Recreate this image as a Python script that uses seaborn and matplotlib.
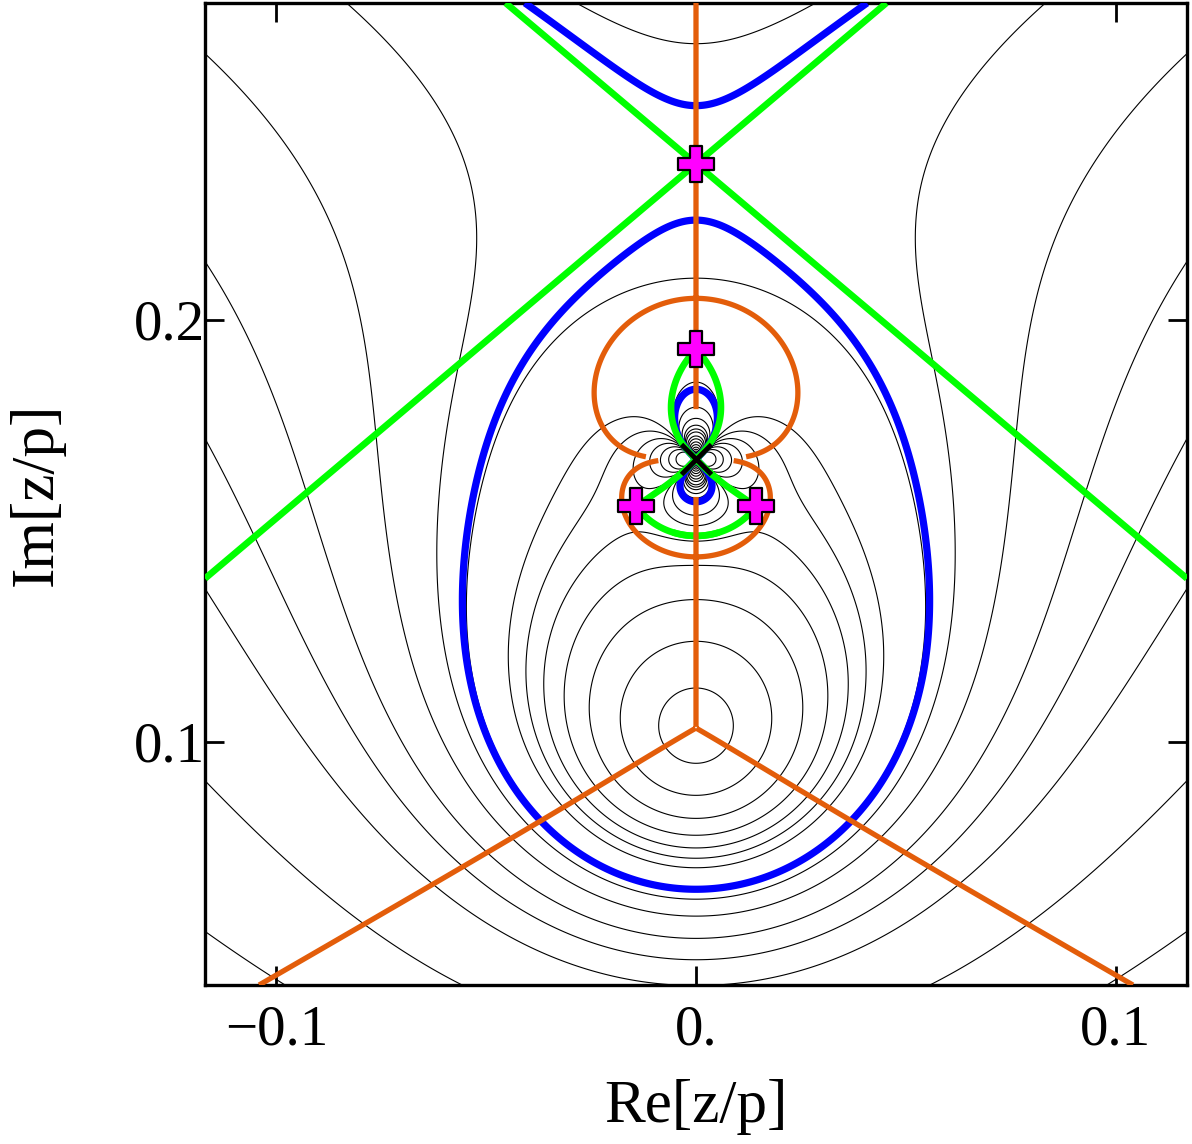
import numpy as np
import matplotlib
matplotlib.use("Agg")
import matplotlib.pyplot as plt
import seaborn as sns

# frame and ticks
X_RANGE = [-0.117, 0.117]
Y_RANGE = [0.0424, 0.2751]
X_TICKS = [-0.1, 0.0, 0.1]
X_TICK_LABELS = ["\u22120.1", "0.", "0.1"]
Y_TICKS = [0.1, 0.2]
Y_TICK_LABELS = ["0.1", "0.2"]

# model S(u) = p log(u - d) + B/u^2 + i E u,  u = z - pole
POLE_Y = 0.167                    # black cross
LOG_Y = 0.1033                    # centre of the circles, where the orange rays meet
AXIS_SADDLES_Y = [0.237, 0.193]   # magenta crosses on the axis
LOG_POWER = 3.0
GREEN_SLOPE = 0.84                # green lines through the top saddle
ORANGE_POLE_SCALE = [8.0, -4.5]   # upper / lower orange loop at the pole

BLUE_OFFSET = -0.013
BLACK_OFFSETS = [-5.2, -3.1, -2.1, -1.5, -1.1, -0.8, -0.54, -0.04,
                 0.23, 0.6, 1.05, 1.45, 1.9, 2.8, 3.8, 5.5, 8, 12, 18, 27, 40, 60]

# fit B and E so that the two axis saddles land where they are in the picture
t = np.array(AXIS_SADDLES_Y) - POLE_Y
delta = POLE_Y - LOG_Y
M = np.column_stack([2 / t**3, -np.ones_like(t)])
B, E = np.linalg.solve(M, -LOG_POWER / (t + delta))
d = 1j * (LOG_Y - POLE_Y)


def action(u):
    return LOG_POWER * np.log(u - d) + B / u**2 + 1j * E * u


roots = np.roots([1j * E, LOG_POWER - 1j * E * d, 0, -2 * B, 2 * B * d])
roots = roots[np.argsort(-roots.imag)]
s_vals = action(roots)
blue_level = s_vals[0].real + BLUE_OFFSET
black_levels = sorted(blue_level + np.array(BLACK_OFFSETS))

xx, yy = np.meshgrid(np.linspace(*X_RANGE, 1500), np.linspace(*Y_RANGE, 1500))
U = xx + 1j * (yy - POLE_Y)
with np.errstate(all="ignore"):
    S = action(U)
ReS = S.real

sns.set_theme(style="white")
plt.rcParams["font.family"] = ["Liberation Serif", "DejaVu Serif"]
plt.rcParams["contour.negative_linestyle"] = "solid"
plt.rcParams["text.color"] = "black"
plt.rcParams["axes.labelcolor"] = "black"

fig = plt.figure(figsize=(11.92, 11.44), dpi=100)
ax = fig.add_axes([205 / 1192, 1 - 985 / 1144, 982 / 1192, 982 / 1144])

ax.contour(xx, yy, ReS, levels=black_levels, colors="black", linewidths=0.8, zorder=1)
ax.contour(xx, yy, ReS, levels=[blue_level], colors="#0000ff", linewidths=5.2, zorder=3)

green = dict(colors="#00ff00", linewidths=4.8, zorder=4)
W = U - roots[0]
ax.contour(xx, yy, (GREEN_SLOPE * W.real)**2 - W.imag**2, levels=[0], **green)
for uk, sk in zip(roots[1:], s_vals[1:]):
    near = np.abs(U - uk) < 1.15 * np.abs(uk)
    if abs(uk.real) < 1e-9:
        keep = near & (yy > POLE_Y) & (yy < POLE_Y + uk.imag)
    else:
        keep = near & (yy < POLE_Y) & (np.abs(xx) < abs(uk.real))
    ax.contour(xx, yy, np.ma.masked_where(~keep, ReS - sk.real), levels=[0], **green)

# orange: Im S = const lines (rays from the circle centre, loops at the pole)
for k, scale in enumerate(ORANGE_POLE_SCALE):
    with np.errstate(all="ignore"):
        s_or = LOG_POWER * np.log(U - d) + scale * B / U**2
    phase = np.angle(np.exp(1j * (s_or.imag - LOG_POWER * np.pi / 2)))
    core = np.sqrt(abs(scale * B) / (2 * np.pi)) * 1.04
    side = (yy >= POLE_Y) if k == 0 else (yy < POLE_Y)
    bad = (np.abs(phase) > 1.2) | (np.abs(U) < core) | ~side
    ax.contour(xx, yy, np.ma.masked_where(bad, phase), levels=[0],
               colors="#e35d0a", linewidths=3.8, zorder=5)

sad = roots + 1j * POLE_Y
sns.scatterplot(x=sad.real, y=sad.imag, marker="P", s=700, color="#ff00ff",
                edgecolor="black", linewidth=1.6, zorder=10, ax=ax, legend=False)
ax.plot([0], [POLE_Y], marker="x", markersize=22, mew=3.5, color="black", zorder=11)

ax.set_xlim(X_RANGE)
ax.set_ylim(Y_RANGE)
ax.set_xticks(X_TICKS)
ax.set_xticklabels(X_TICK_LABELS)
ax.set_yticks(Y_TICKS)
ax.set_yticklabels(Y_TICK_LABELS)
ax.tick_params(direction="in", length=14, width=2, labelsize=41, top=True, right=True,
               bottom=True, left=True, color="black", labelcolor="black")
ax.tick_params(axis="x", pad=14)
ax.tick_params(axis="y", pad=0)
for sp in ax.spines.values():
    sp.set_linewidth(2.4)
    sp.set_color("black")
ax.set_xlabel("Re[z/p]", fontsize=44, labelpad=16, color="black")
ax.set_ylabel("Im[z/p]", fontsize=44, labelpad=50, color="black")
ax.grid(False)

fig.savefig("out.png", dpi=100)
